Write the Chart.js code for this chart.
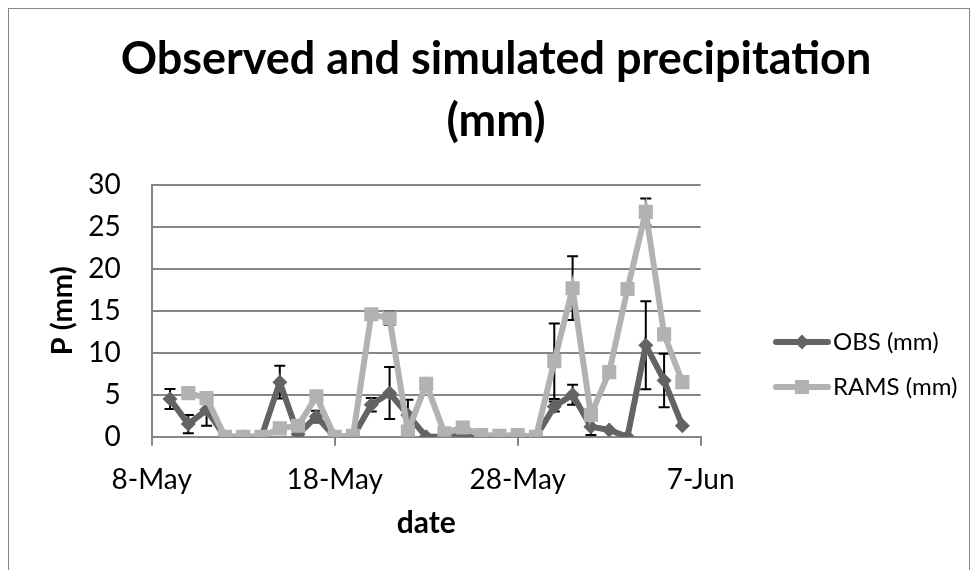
<!DOCTYPE html>
<html>
<head>
<meta charset="utf-8">
<title>Observed and simulated precipitation</title>
<script src="https://cdn.jsdelivr.net/npm/chart.js@4.4.1/dist/chart.umd.min.js"></script>
<style>
  html, body { margin: 0; padding: 0; background: #fff; }
  #wrap { width: 978px; height: 570px; }
</style>
</head>
<body>
<div id="wrap"><canvas id="precipChart" width="978" height="570"></canvas></div>
<script>
// daily values
const dates = [
  "9-May", "10-May", "11-May", "12-May", "13-May", "14-May", "15-May", "16-May",
  "17-May", "18-May", "19-May", "20-May", "21-May", "22-May", "23-May", "24-May",
  "25-May", "26-May", "27-May", "28-May", "29-May", "30-May", "31-May",
  "1-Jun", "2-Jun", "3-Jun", "4-Jun", "5-Jun", "6-Jun"
];
const obsValues = [
  4.5, 1.5, 3.2, 0, 0, 0, 6.5, 0.3, 2.4, 0, 0, 3.8, 5.2, 2.6, 0, 0,
  0.1, 0, 0, 0, 0, 3.6, 5.0, 1.2, 0.8, 0, 10.9, 6.7, 1.3
];
const ramsValues = [
  null, 5.2, 4.6, 0, 0, 0, 1.0, 1.3, 4.8, 0, 0.1, 14.6, 14.1, 0.6, 6.3, 0.4,
  1.1, 0.2, 0.1, 0.2, 0, 9.0, 17.7, 2.6, 7.7, 17.6, 26.8, 12.2, 6.5
];
const obsErrors = [
  1.2, 1.1, 1.9, null, null, null, 1.95, null, 0.7, null, null, 0.8, 3.1, 1.8, null, null,
  null, null, null, null, null, 0.6, 1.2, 1.0, null, null, 5.25, 3.2, null
];
const ramsErrors = [
  null, null, null, null, null, null, null, null, null, null, null, null, 0.8, null, null, null,
  null, null, null, null, null, 4.5, 3.8, null, null, null, 1.6, null, null
];
const xTickLabels = ["8-May", "18-May", "28-May", "7-Jun"];
const yTicks = [0, 5, 10, 15, 20, 25, 30];

const OBS_COLOR = "#636363";
const RAMS_COLOR = "#b2b2b2";
const GRID_COLOR = "#868686";

// days counted from 8-May, so the date axis can be linear
function dayNumber(label) {
  const parts = label.split("-");
  const monthStart = parts[1] === "Jun" ? 31 : 0;
  return monthStart + Number(parts[0]) - 8;
}
const dayNumbers = dates.map(dayNumber);

function toPoints(values) {
  return values.map((v, i) => ({ x: dayNumbers[i], y: v }));
}

const chartDecor = {
  id: "chartDecor",
  beforeDatasetsDraw(chart) {
    const ctx = chart.ctx;
    const xs = chart.scales.x;
    const ys = chart.scales.y;
    ctx.save();
    ctx.strokeStyle = "#000";
    ctx.lineWidth = 2;
    [[obsValues, obsErrors], [ramsValues, ramsErrors]].forEach(([vals, errs]) => {
      errs.forEach((e, i) => {
        if (e == null || vals[i] == null) return;
        const px = xs.getPixelForValue(dayNumbers[i]);
        const top = ys.getPixelForValue(vals[i] + e);
        const bot = ys.getPixelForValue(Math.max(vals[i] - e, 0));
        ctx.beginPath();
        ctx.moveTo(px, top);
        ctx.lineTo(px, bot);
        ctx.moveTo(px - 5.5, top);
        ctx.lineTo(px + 5.5, top);
        ctx.moveTo(px - 5.5, bot);
        ctx.lineTo(px + 5.5, bot);
        ctx.stroke();
      });
    });
    ctx.restore();
  },
  afterDraw(chart) {
    const ctx = chart.ctx;
    ctx.save();

    // outer chart border
    ctx.strokeStyle = GRID_COLOR;
    ctx.lineWidth = 1;
    ctx.strokeRect(8.5, 8.5, 961, 600);

    // title
    ctx.fillStyle = "#000";
    ctx.textAlign = "center";
    ctx.textBaseline = "alphabetic";
    ctx.font = "bold 45px Lato";
    ctx.fillText("Observed and simulated precipitation", 496, 74);
    ctx.fillText("(mm)", 496, 136);

    // legend
    const entries = [
      { text: "OBS (mm)", color: OBS_COLOR, style: "rectRot", radius: 7.5, y: 342 },
      { text: "RAMS (mm)", color: RAMS_COLOR, style: "rect", radius: 10, y: 387 }
    ];
    ctx.font = "24px Lato";
    ctx.textAlign = "left";
    ctx.textBaseline = "middle";
    entries.forEach(en => {
      ctx.strokeStyle = en.color;
      ctx.lineWidth = 6;
      ctx.lineCap = "round";
      ctx.beginPath();
      ctx.moveTo(776, en.y);
      ctx.lineTo(828, en.y);
      ctx.stroke();
      ctx.fillStyle = en.color;
      Chart.helpers.drawPoint(ctx, { pointStyle: en.style, radius: en.radius, borderWidth: 0, rotation: 0 }, 802, en.y);
      ctx.fillStyle = "#000";
      ctx.fillText(en.text, 833, en.y);
    });
    ctx.restore();
  }
};

new Chart(document.getElementById("precipChart"), {
  type: "line",
  data: {
    datasets: [
      {
        label: "OBS (mm)",
        data: toPoints(obsValues),
        borderColor: OBS_COLOR,
        backgroundColor: OBS_COLOR,
        borderWidth: 6,
        pointStyle: "rectRot",
        pointRadius: 7.5,
        pointBorderWidth: 0,
        tension: 0,
        order: 1
      },
      {
        label: "RAMS (mm)",
        data: toPoints(ramsValues),
        borderColor: RAMS_COLOR,
        backgroundColor: RAMS_COLOR,
        borderWidth: 6,
        pointStyle: "rect",
        pointRadius: 10,
        pointBorderWidth: 0,
        tension: 0,
        spanGaps: false,
        order: 0
      }
    ]
  },
  options: {
    responsive: false,
    animation: false,
    devicePixelRatio: 1,
    layout: { padding: { top: 185, left: 0, right: 277.3, bottom: 0 } },
    plugins: {
      legend: { display: false },
      title: { display: false },
      tooltip: { enabled: false }
    },
    scales: {
      x: {
        type: "linear",
        min: 0,
        max: 30,
        afterFit: s => { s.height = 133.3; },
        afterBuildTicks: s => { s.ticks = xTickLabels.map((t, i) => ({ value: i * 10 })); },
        ticks: {
          callback: (v) => xTickLabels[Math.round(v / 10)],
          font: { family: "Lato", size: 28 },
          color: "#000",
          padding: 17,
          maxRotation: 0
        },
        grid: {
          drawOnChartArea: false,
          drawTicks: true,
          tickLength: 9,
          color: GRID_COLOR,
          lineWidth: 2
        },
        border: { display: true, color: GRID_COLOR, width: 2 },
        title: {
          display: true,
          text: "date",
          font: { family: "Lato", size: 30, weight: "bold" },
          color: "#000",
          padding: { top: 0, bottom: 28.5 }
        }
      },
      y: {
        min: 0,
        max: 30,
        afterFit: s => { s.width = 151.7; },
        afterBuildTicks: s => { s.ticks = yTicks.map(v => ({ value: v })); },
        ticks: {
          font: { family: "Lato", size: 28 },
          color: "#000",
          padding: 31
        },
        grid: {
          drawTicks: false,
          color: GRID_COLOR,
          lineWidth: 2
        },
        border: { display: true, color: GRID_COLOR, width: 2 },
        title: {
          display: true,
          text: "P (mm)",
          font: { family: "Lato", size: 29, weight: "bold" },
          color: "#000",
          padding: { top: 45, bottom: 0 }
        }
      }
    }
  },
  plugins: [chartDecor]
});
</script>
</body>
</html>
